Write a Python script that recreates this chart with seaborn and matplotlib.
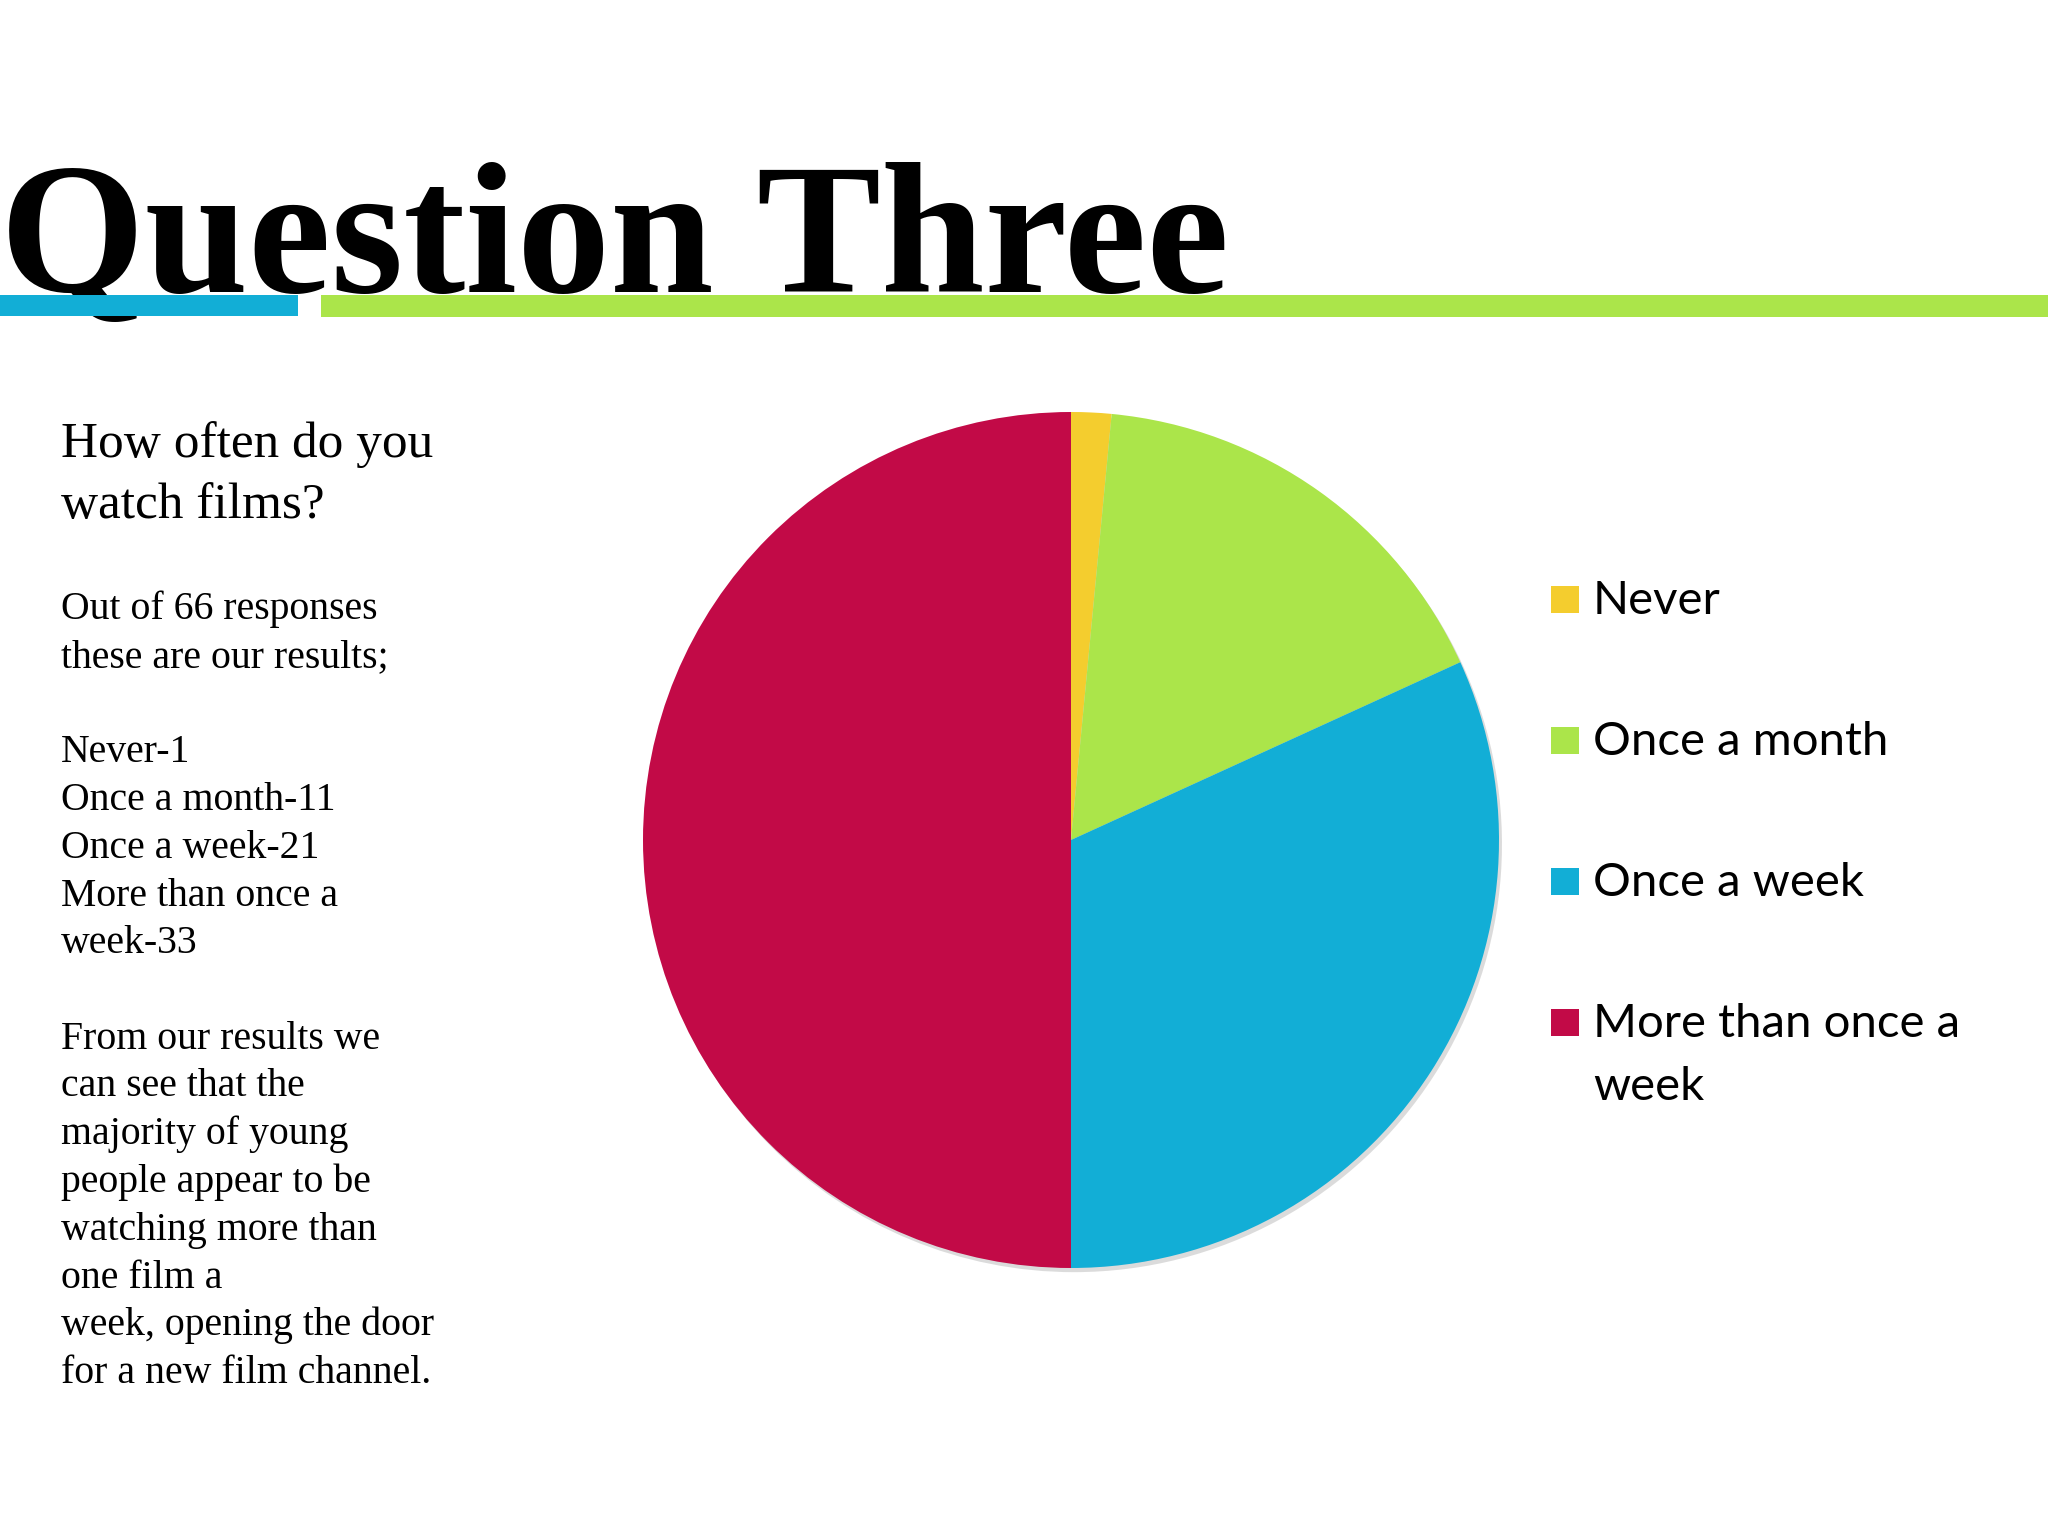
import matplotlib.pyplot as plt
import seaborn as sns
from matplotlib.patches import Rectangle

# Survey data: "How often do you watch films?" (66 responses)
categories = ["Never", "Once a month", "Once a week", "More than once a week"]
responses = [1, 11, 21, 33]
legend_labels = ["Never", "Once a month", "Once a week", "More than once a\nweek"]
colors = ["#F4CD2E", "#ABE54A", "#12AED6", "#C20A47"]

title = "Question Three"
heading_lines = ["How often do you", "watch films?"]
body_lines = [
    "Out of 66 responses",
    "these are our results;",
    "",
    "Never-1",
    "Once a month-11",
    "Once a week-21",
    "More than once a",
    "week-33",
    "",
    "From our results we",
    "can see that the",
    "majority of young",
    "people appear to be",
    "watching more than",
    "one film a",
    "week, opening the door",
    "for a new film channel.",
]

W, H = 2048, 1536


def fx(px):
    return px / W


def fy(py):
    return 1 - py / H


sns.set_theme(style="white")
plt.rcParams["font.family"] = ["Liberation Serif", "DejaVu Serif"]

fig = plt.figure(figsize=(W / 100, H / 100), dpi=100)
fig.patch.set_facecolor("white")

# Slide title with the coloured rules underneath
fig.text(fx(0), fy(292), title, fontsize=134, fontweight="bold",
         ha="left", va="baseline", color="black", zorder=3)
fig.add_artist(Rectangle((fx(0), fy(316)), fx(298), 21 / H,
                         transform=fig.transFigure, color=colors[2],
                         lw=0, zorder=5))
fig.add_artist(Rectangle((fx(321), fy(317)), fx(W - 321), 22 / H,
                         transform=fig.transFigure, color=colors[1],
                         lw=0, zorder=5))

# Left-hand text column
for i, line in enumerate(heading_lines):
    fig.text(fx(61), fy(457 + i * 61), line, fontsize=36.9,
             ha="left", va="baseline", color="black")
for i, line in enumerate(body_lines):
    if line:
        fig.text(fx(61), fy(619 + i * 47.75), line, fontsize=28.6,
                 ha="left", va="baseline", color="black")

# Pie chart
cx, cy, r = 1071, 840, 428
side = 2.5 * r
ax = fig.add_axes([fx(cx - side / 2), fy(cy + side / 2), side / W, side / H])
ax.pie(
    responses,
    colors=colors,
    startangle=90,
    counterclock=False,
    wedgeprops=dict(linewidth=0),
    shadow={"ox": 0.005, "oy": -0.007, "facecolor": "#8a8a8a",
            "edgecolor": "none", "alpha": 0.3},
)
ax.set_xlim(-1.25, 1.25)
ax.set_ylim(-1.25, 1.25)
ax.set_aspect("equal")
ax.axis("off")

# Legend on the right
for i, (label, col) in enumerate(zip(legend_labels, colors)):
    base = 614 + i * 141
    fig.add_artist(Rectangle((fx(1551), fy(base - 1)), fx(28), 27 / H,
                             transform=fig.transFigure, color=col, lw=0))
    for j, part in enumerate(label.split("\n")):
        fig.text(fx(1593), fy(base + j * 63), part, fontsize=34,
                 family=["Lato", "DejaVu Sans"], ha="left", va="baseline",
                 color="black")

fig.savefig("out.png", dpi=100, facecolor="white")
